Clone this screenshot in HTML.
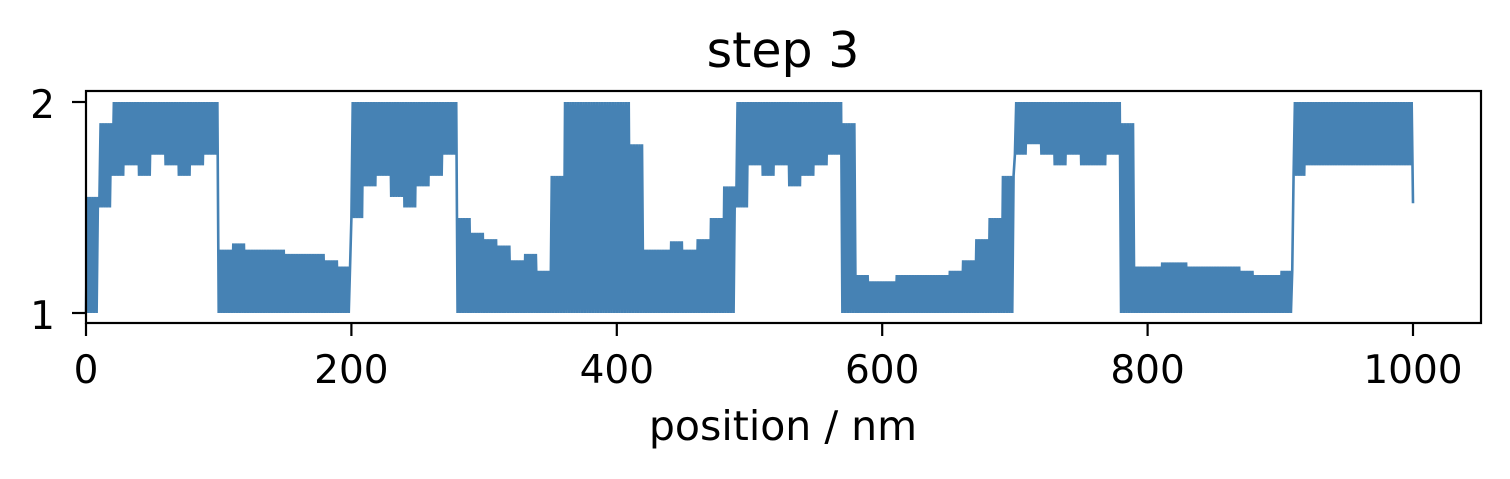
<!DOCTYPE html>
<html><head><meta charset="utf-8"><style>
body{margin:0;background:#fff;}
svg{display:block;font-family:"DejaVu Sans","Liberation Sans",sans-serif;}
</style></head><body>
<svg id="chart" width="1510" height="479">
<text x="783" y="67" style="font-size:49px" text-anchor="middle">step 3</text>
<g id="marks"></g>
<rect x="86" y="91" width="1395" height="232" fill="none" stroke="#000" stroke-width="2.2"/>
<g id="xaxis"></g>
<g id="yaxis"></g>
<text x="783" y="440" style="font-size:41px" text-anchor="middle">position / nm</text>
</svg>
<script>
const binLo = [1.0,1.5,1.65,1.7,1.65,1.75,1.7,1.65,1.7,1.75,
1,1,1,1,1,1,1,1,1,1,
1.45,1.6,1.65,1.55,1.5,1.6,1.65,1.75,
1,1,1,1,1,1,1,1,1,1,1,1,1,1,
1,1,1,1,1,1,1,
1.5,1.7,1.65,1.7,1.6,1.65,1.7,1.75,
1,1,1,1,1,1,1,1,1,1,1,1,1,
1.75,1.8,1.75,1.7,1.75,1.7,1.7,1.75,
1,1,1,1,1,1,1,1,1,1,1,1,1,
1.65,1.7,1.7,1.7,1.7,1.7,1.7,1.7,1.7];
const binHi = [1.55,1.9,2,2,2,2,2,2,2,2,
1.3,1.33,1.3,1.3,1.3,1.28,1.28,1.28,1.25,1.22,
2,2,2,2,2,2,2,2,
1.45,1.38,1.35,1.32,1.25,1.28,1.2,1.65,
2,2,2,2,2,1.8,
1.3,1.3,1.34,1.3,1.35,1.45,1.6,
2,2,2,2,2,2,2,2,
1.9,1.18,1.15,1.15,1.18,1.18,1.18,1.18,1.2,1.25,1.35,1.45,1.65,
2,2,2,2,2,2,2,2,
1.9,1.22,1.22,1.24,1.24,1.22,1.22,1.22,1.22,1.2,1.18,1.18,1.2,
2,2,2,2,2,2,2,2,2];
const lastValue = 1.52;
const xTicks = [0,200,400,600,800,1000];
const yTicks = [1,2];

const NS='http://www.w3.org/2000/svg';
const X0=86, PX=1.327;
const xs = v => X0 + v*PX;
const ys = v => 313 - (v-1)*211;

let pts=[];
for(let i=0;i<1000;i++){
  const b=Math.floor(i/10);
  const v = (i%2) ? binHi[b] : binLo[b];
  pts.push(xs(i).toFixed(2)+','+ys(v).toFixed(2));
}
pts.push(xs(1000).toFixed(2)+','+ys(lastValue).toFixed(2));
const pl=document.createElementNS(NS,'polyline');
pl.setAttribute('points',pts.join(' '));
pl.setAttribute('fill','none');
pl.setAttribute('stroke','#4682b4');
pl.setAttribute('stroke-width','2.6');


document.getElementById('marks').appendChild(pl);

const xa=document.getElementById('xaxis');
xTicks.forEach(t=>{
  const l=document.createElementNS(NS,'line');
  l.setAttribute('x1',xs(t));l.setAttribute('x2',xs(t));
  l.setAttribute('y1',323);l.setAttribute('y2',336);
  l.setAttribute('stroke','#000');l.setAttribute('stroke-width','2.2');
  
  
  xa.appendChild(l);
  const tx=document.createElementNS(NS,'text');
  tx.setAttribute('x',xs(t));tx.setAttribute('y',383);
  tx.setAttribute('style','font-size:39px');tx.setAttribute('text-anchor','middle');
  tx.textContent=t;
  
  
  xa.appendChild(tx);
});
const ya=document.getElementById('yaxis');
yTicks.forEach(t=>{
  const l=document.createElementNS(NS,'line');
  l.setAttribute('x1',72);l.setAttribute('x2',86);
  l.setAttribute('y1',ys(t));l.setAttribute('y2',ys(t));
  l.setAttribute('stroke','#000');l.setAttribute('stroke-width','2.2');
  
  
  ya.appendChild(l);
  const tx=document.createElementNS(NS,'text');
  tx.setAttribute('x',55);tx.setAttribute('y',ys(t)+16);
  tx.setAttribute('style','font-size:39px');tx.setAttribute('text-anchor','end');
  tx.textContent=t;
  
  
  ya.appendChild(tx);
});
</script>
</body></html>
